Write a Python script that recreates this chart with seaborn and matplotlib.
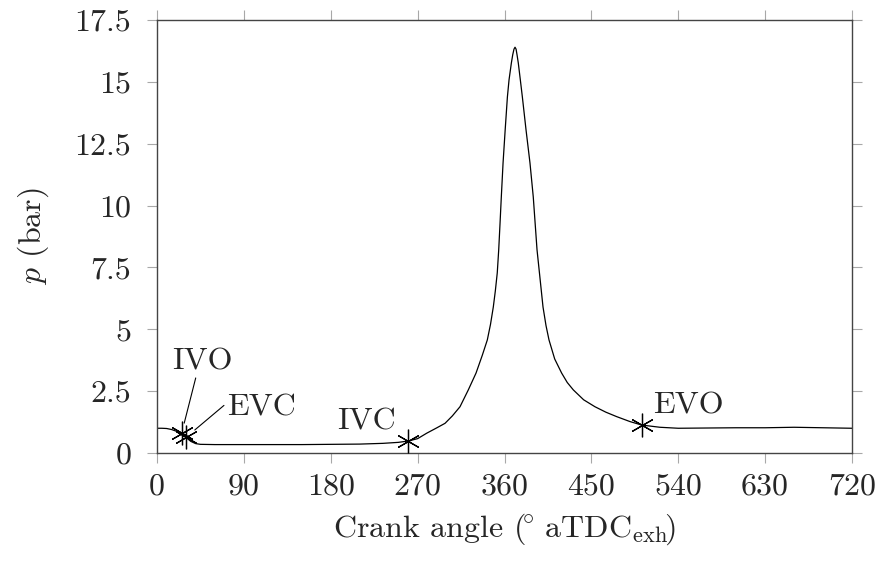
import matplotlib
matplotlib.use("Agg")
import matplotlib.pyplot as plt
import seaborn as sns

# ---- data ----
crank_angle = [0, 5, 10, 15, 20, 25.6, 30, 35, 40, 45, 60, 90, 120, 150, 180,
               210, 234, 250, 260.4, 270, 279.4, 290, 298.4, 306, 313.9, 322.5,
               330.5, 337, 342.2, 345.5, 348.4, 350.5, 352.5, 354.0, 355.4, 356.7,
               358.5, 360.7, 363.0, 364.7, 367.1, 368.5, 369.8, 370.9, 372.0,
               373.0, 374.3, 376.4, 378.5, 382.3, 386.4, 389.8, 393.7, 396.2,
               399.9, 403, 406.1, 412, 419.2, 425, 431.3, 442, 453.7, 465, 476.2,
               490, 502.1, 521, 540, 570, 600, 630, 660, 690, 720]
pressure = [1.00, 1.00, 0.99, 0.95, 0.88, 0.81, 0.63, 0.47, 0.38, 0.35, 0.34,
            0.34, 0.34, 0.34, 0.35, 0.36, 0.39, 0.43, 0.485, 0.58, 0.80, 1.02,
            1.20, 1.50, 1.87, 2.55, 3.23, 3.95, 4.57, 5.20, 5.90, 6.55, 7.28,
            8.21, 9.30, 10.35, 11.72, 13.06, 14.39, 15.08, 15.76, 16.09, 16.32,
            16.40, 16.32, 16.09, 15.76, 15.08, 14.39, 13.06, 11.72, 10.35, 8.21,
            7.28, 5.90, 5.15, 4.57, 3.80, 3.23, 2.85, 2.55, 2.15, 1.87, 1.65,
            1.47, 1.27, 1.13, 1.04, 1.00, 1.01, 1.02, 1.02, 1.04, 1.02, 1.00]

event_names = ["IVO", "EVC", "IVC", "EVO"]
event_angle = [25.6, 30, 260.4, 502.1]
event_pressure = [0.81, 0.63, 0.485, 1.13]

x_ticks = [0, 90, 180, 270, 360, 450, 540, 630, 720]
y_ticks = [0, 2.5, 5, 7.5, 10, 12.5, 15, 17.5]
y_tick_labels = ["0", "2.5", "5", "7.5", "10", "12.5", "15", "17.5"]

# ---- style ----
sns.set_style("ticks")
plt.rcParams["font.family"] = ["cmr10", "DejaVu Serif"]
plt.rcParams["mathtext.fontset"] = "cm"
plt.rcParams["axes.unicode_minus"] = False
plt.rcParams["axes.formatter.use_mathtext"] = True

FS = 23
fig = plt.figure(figsize=(8.81, 5.63), dpi=100)
ax = fig.add_axes([157 / 881, 1 - 453 / 563, (852 - 157) / 881, (453 - 20) / 563])

sns.lineplot(x=crank_angle, y=pressure, ax=ax, color="black", linewidth=0.9)
ax.plot(event_angle, event_pressure, ls="none", marker=(6, 2, 0), ms=17,
        mew=0.9, color="black", zorder=5)

# annotations (offsets in pixels relative to the markers)
text_offsets = {"IVO": (21, 63, "center"), "EVC": (41, 22, "left"),
                "IVC": (-12, 11, "right"), "EVO": (11, 12, "left")}
leader_lines = {"IVO": ((14, 55), 7.3), "EVC": ((38, 32), 8.3)}
for name, xa, ya in zip(event_names, event_angle, event_pressure):
    dx, dy, ha = text_offsets[name]
    ax.annotate(name, xy=(xa, ya), xytext=(dx, dy), textcoords="offset pixels",
                ha=ha, va="baseline", fontsize=FS)
    if name in leader_lines:
        (lx, ly), shr = leader_lines[name]
        ax.annotate("", xy=(xa, ya), xytext=(lx, ly), textcoords="offset pixels",
                    arrowprops=dict(arrowstyle="-", color="black", lw=0.8,
                                    shrinkA=0, shrinkB=shr))

ax.set_xlim(0, 720)
ax.set_ylim(0, 17.5)
ax.set_xticks(x_ticks)
ax.set_xticklabels([str(t) for t in x_ticks])
ax.set_yticks(y_ticks)
ax.set_yticklabels(y_tick_labels)

for s in ax.spines.values():
    s.set_visible(True)
    s.set_color("#444444")
    s.set_linewidth(1.0)

ax.tick_params(axis="both", which="major", direction="out", length=7.5,
               width=0.8, color="#a8a8a8", labelsize=FS, top=True, right=True,
               labeltop=False, labelright=False)
ax.tick_params(axis="x", pad=7)
ax.tick_params(axis="y", pad=11)

ax.set_xlabel(r"Crank angle ($\!^{\circ}\ $aTDC$_{\mathrm{exh}}\!$)", fontsize=FS, labelpad=8)
ax.set_ylabel(r"$p$ (bar)", fontsize=FS, labelpad=17)

fig.savefig("out.png", dpi=100)
